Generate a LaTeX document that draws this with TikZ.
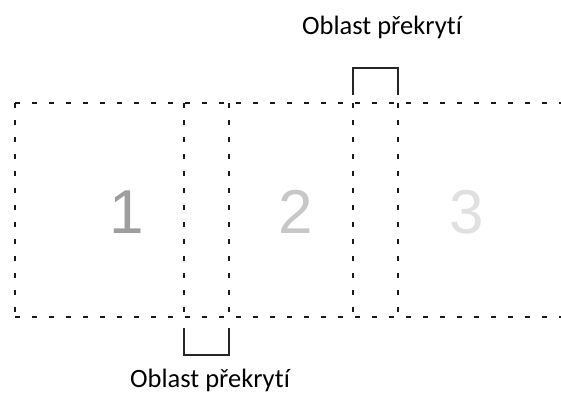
\documentclass[tikz,border=0pt]{standalone}
\usepackage{fontspec}
\setmainfont{Carlito}[RawFeature=-liga]
\newfontfamily\numfont{Liberation Sans}
\usetikzlibrary{calc, positioning}

\begin{document}
\begin{tikzpicture}[x=1pt,y=1pt]
\tikzstyle{edge}=[line width=2.5pt,dash pattern=on 5pt off 12pt,black!90]
\tikzstyle{bracket}=[line width=2.2pt,black!85]
\tikzstyle{label}=[inner sep=0pt,anchor=base,font=\fontsize{26.5}{28}\selectfont]
\tikzstyle{num}=[inner sep=0pt,anchor=base,font=\numfont\fontsize{62}{64}\selectfont]
\useasboundingbox (0,0) rectangle (561,397);
% corners of the strip
\coordinate (TL) at (15,294);
\coordinate (TR) at (561,294);
\coordinate (BL) at (15,80);
\coordinate (BR) at (561,80);
% edges of the overlapping frames
\coordinate (A_t) at (184,294); \coordinate (A_b) at (184,80);
\coordinate (B_t) at (229,294); \coordinate (B_b) at (229,80);
\coordinate (C_t) at (353,294); \coordinate (C_b) at (353,80);
\coordinate (D_t) at (398,294); \coordinate (D_b) at (398,80);
\draw[edge] (TL) -- (TR);
\draw[edge] (BL) -- (BR);
\draw[edge] (TL) -- (BL);
\draw[edge] (A_t) -- (A_b);
\draw[edge] (B_t) -- (B_b);
\draw[edge] (C_t) -- (C_b);
\draw[edge] (D_t) -- (D_b);
\node[num,text=black!38] (N_1) at (127,164) {1};
\node[num,text=black!22] (N_2) at (296,164) {2};
\node[num,text=black!12] (N_3) at (467,164) {3};
% overlap marks
\coordinate (U_1) at (353,302); \coordinate (U_2) at (353,329);
\coordinate (U_3) at (398,329); \coordinate (U_4) at (398,302);
\draw[bracket] (U_1) -- (U_2) -- (U_3) -- (U_4);
\coordinate (L_1) at (184,69); \coordinate (L_2) at (184,42);
\coordinate (L_3) at (229,42); \coordinate (L_4) at (229,69);
\draw[bracket] (L_1) -- (L_2) -- (L_3) -- (L_4);
\node[label] (T_top) at (382,362) {Oblast překrytí};
\node[label] (T_bot) at (210,10) {Oblast překrytí};
\end{tikzpicture}
\end{document}
